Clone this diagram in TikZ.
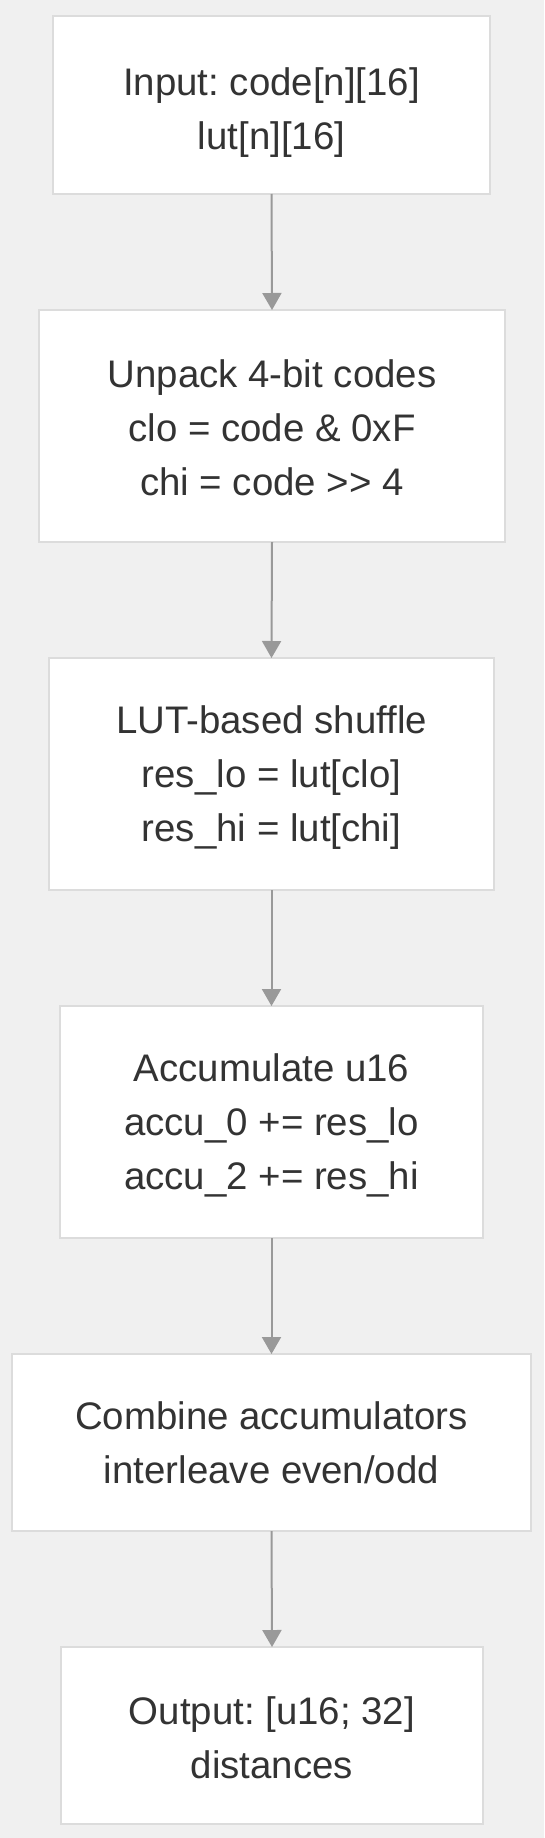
\documentclass[tikz,border=0pt]{standalone}
\usepackage{fontspec}
\setmainfont{Liberation Sans}
\usetikzlibrary{arrows.meta}
\definecolor{bgc}{HTML}{F0F0F0}
\definecolor{boxborder}{HTML}{DCDCDC}
\definecolor{arrc}{HTML}{999999}
\definecolor{txtc}{HTML}{333333}
\frenchspacing
\begin{document}
\begin{tikzpicture}[x=1pt,y=-1pt,
  box/.style={draw=boxborder, fill=white, line width=1.5pt, inner sep=0pt, outer sep=0pt},
  lbl/.style={align=center, text=txtc, inner sep=0pt, font=\fontsize{38.4}{54}\selectfont},
  arr/.style={draw=arrc, line width=2pt, -{Triangle[width=19pt,length=17pt]}}]
\fill[bgc] (0,0) rectangle (544,1838);
\useasboundingbox (0,0) rectangle (544,1838);
\node[box, minimum width=437pt, minimum height=178pt] (n1) at (271.5,105) {};
\node[box, minimum width=466pt, minimum height=232pt] (n2) at (272,426) {};
\node[box, minimum width=445pt, minimum height=232pt] (n3) at (271.5,774) {};
\node[box, minimum width=423pt, minimum height=232pt] (n4) at (271.5,1122) {};
\node[box, minimum width=519pt, minimum height=177pt] (n5) at (271.5,1442.5) {};
\node[box, minimum width=422pt, minimum height=177pt] (n6) at (272,1735.5) {};
\node[lbl] (t1) at (271.5,113) {Input: code[n][16]\\lut[n][16]};
\node[lbl] (t2) at (272,428) {Unpack 4-bit codes\\clo = code \& 0xF\\chi = code {>}{>} 4};
\node[lbl] (t3) at (271.5,778) {LUT-based shuffle\\res\_lo = lut[clo]\\res\_hi = lut[chi]};
\node[lbl] (t4) at (271.5,1125.5) {Accumulate u16\\accu\_0 += res\_lo\\accu\_2 += res\_hi};
\node[lbl] (t5) at (271.5,1443) {Combine accumulators\\interleave even/odd};
\node[lbl] (t6) at (272,1738) {Output: [u16; 32]\\distances};
\draw[arr] (n1.south) -- (n2.north);
\draw[arr] (n2.south) -- (n3.north);
\draw[arr] (n3.south) -- (n4.north);
\draw[arr] (n4.south) -- (n5.north);
\draw[arr] (n5.south) -- (n6.north);
\end{tikzpicture}
\end{document}
